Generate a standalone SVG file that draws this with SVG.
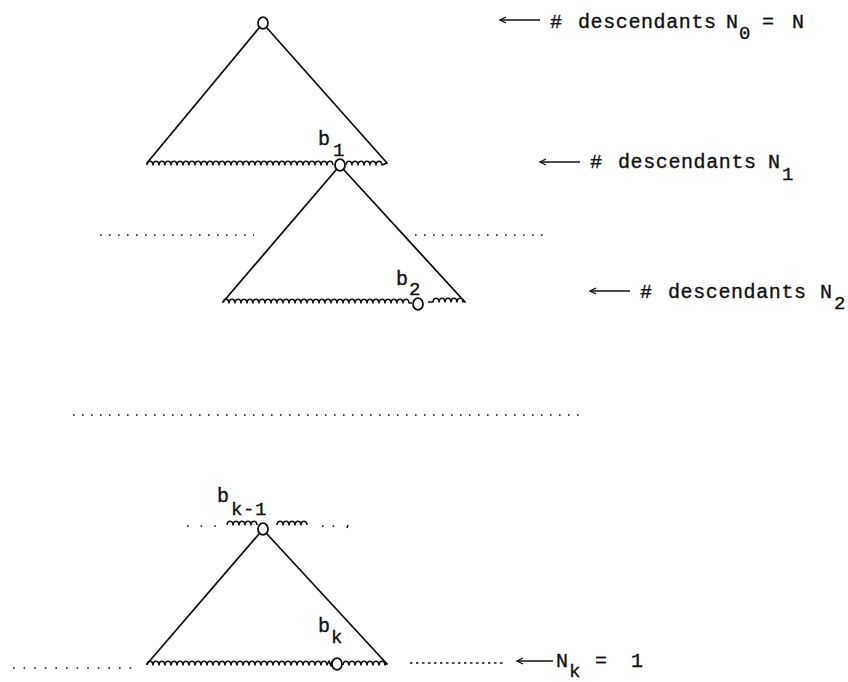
<svg xmlns="http://www.w3.org/2000/svg" width="848" height="682" viewBox="0 0 848 682">
<defs>
<style>
text{font-family:"Liberation Mono","Courier New",monospace;font-size:20px;fill:#111;stroke:#111;stroke-width:0.35;letter-spacing:0.6px}
.sub{font-size:19px}
.edge{stroke:#111;stroke-width:1.8;fill:none;stroke-linecap:round}
.node{stroke:#111;stroke-width:1.8;fill:#fff}
.wave{stroke:#111;stroke-width:1.6;fill:none;stroke-linejoin:round}
.dots{stroke:#111;stroke-width:1.6;stroke-dasharray:1.6 7.4;fill:none}
.dense{stroke:#111;stroke-width:1.5;stroke-dasharray:2.5 3.5;fill:none}
.arrow{stroke:#111;stroke-width:1.4;fill:none}
</style>
<marker id="ah" viewBox="-8 -5 10 10" refX="0" refY="0" markerWidth="10" markerHeight="10" orient="auto" markerUnits="userSpaceOnUse">
<path d="M-6,-3 L0,0 L-6,3" fill="none" stroke="#111" stroke-width="1.3"/>
</marker>
</defs>
<rect width="848" height="682" fill="#fff"/>

<g id="connectors">
<line class="edge" x1="259" y1="28" x2="147" y2="163"/>
<line class="edge" x1="267" y1="28" x2="387" y2="163"/>
<line class="edge" x1="336" y1="170" x2="223" y2="302"/>
<line class="edge" x1="344" y1="170" x2="465" y2="302"/>
<line class="edge" x1="259" y1="534" x2="147" y2="664"/>
<line class="edge" x1="267" y1="534" x2="387" y2="664"/>
</g>

<g id="frontiers">
<path class="wave" d="M147,165 c0.5,-5 5.5,-5 6,0 c0.5,-5 5.5,-5 6,0 c0.5,-5 5.5,-5 6,0 c0.5,-5 5.5,-5 6,0 c0.5,-5 5.5,-5 6,0 c0.5,-5 5.5,-5 6,0 c0.5,-5 5.5,-5 6,0 c0.5,-5 5.5,-5 6,0 c0.5,-5 5.5,-5 6,0 c0.5,-5 5.5,-5 6,0 c0.5,-5 5.5,-5 6,0 c0.5,-5 5.5,-5 6,0 c0.5,-5 5.5,-5 6,0 c0.5,-5 5.5,-5 6,0 c0.5,-5 5.5,-5 6,0 c0.5,-5 5.5,-5 6,0 c0.5,-5 5.5,-5 6,0 c0.5,-5 5.5,-5 6,0 c0.5,-5 5.5,-5 6,0 c0.5,-5 5.5,-5 6,0 c0.5,-5 5.5,-5 6,0 c0.5,-5 5.5,-5 6,0 c0.5,-5 5.5,-5 6,0 c0.5,-5 5.5,-5 6,0 c0.5,-5 5.5,-5 6,0 c0.5,-5 5.5,-5 6,0 c0.5,-5 5.5,-5 6,0 c0.5,-5 5.5,-5 6,0 c0.5,-5 5.5,-5 6,0 c0.5,-5 5.5,-5 6,0 c0.5,-5 5.5,-5 6,0"/>
<path class="wave" d="M346,165 c0.5,-5 5.5,-5 6,0 c0.5,-5 5.5,-5 6,0 c0.5,-5 5.5,-5 6,0 c0.5,-5 5.5,-5 6,0 c0.5,-5 5.5,-5 6,0 c0.5,-5 5.5,-5 6,0 l5,-2"/>
<path class="wave" d="M223,303 c0.5,-5 5.5,-5 6,0 c0.5,-5 5.5,-5 6,0 c0.5,-5 5.5,-5 6,0 c0.5,-5 5.5,-5 6,0 c0.5,-5 5.5,-5 6,0 c0.5,-5 5.5,-5 6,0 c0.5,-5 5.5,-5 6,0 c0.5,-5 5.5,-5 6,0 c0.5,-5 5.5,-5 6,0 c0.5,-5 5.5,-5 6,0 c0.5,-5 5.5,-5 6,0 c0.5,-5 5.5,-5 6,0 c0.5,-5 5.5,-5 6,0 c0.5,-5 5.5,-5 6,0 c0.5,-5 5.5,-5 6,0 c0.5,-5 5.5,-5 6,0 c0.5,-5 5.5,-5 6,0 c0.5,-5 5.5,-5 6,0 c0.5,-5 5.5,-5 6,0 c0.5,-5 5.5,-5 6,0 c0.5,-5 5.5,-5 6,0 c0.5,-5 5.5,-5 6,0 c0.5,-5 5.5,-5 6,0 c0.5,-5 5.5,-5 6,0 c0.5,-5 5.5,-5 6,0 c0.5,-5 5.5,-5 6,0 c0.5,-5 5.5,-5 6,0 c0.5,-5 5.5,-5 6,0 c0.5,-5 5.5,-5 6,0 c0.5,-5 5.5,-5 6,0 c0.5,-5 5.5,-5 6,0 l3,0"/>
<path class="wave" d="M428,302 l5,0 c0.5,-5 5.5,-5 6,0 c0.5,-5 5.5,-5 6,0 c0.5,-5 5.5,-5 6,0 c0.5,-5 5.5,-5 6,0 c0.5,-5 5.5,-5 6,0 l2,-1"/>
<path class="wave" d="M147,665 c0.5,-5 5.5,-5 6,0 c0.5,-5 5.5,-5 6,0 c0.5,-5 5.5,-5 6,0 c0.5,-5 5.5,-5 6,0 c0.5,-5 5.5,-5 6,0 c0.5,-5 5.5,-5 6,0 c0.5,-5 5.5,-5 6,0 c0.5,-5 5.5,-5 6,0 c0.5,-5 5.5,-5 6,0 c0.5,-5 5.5,-5 6,0 c0.5,-5 5.5,-5 6,0 c0.5,-5 5.5,-5 6,0 c0.5,-5 5.5,-5 6,0 c0.5,-5 5.5,-5 6,0 c0.5,-5 5.5,-5 6,0 c0.5,-5 5.5,-5 6,0 c0.5,-5 5.5,-5 6,0 c0.5,-5 5.5,-5 6,0 c0.5,-5 5.5,-5 6,0 c0.5,-5 5.5,-5 6,0 c0.5,-5 5.5,-5 6,0 c0.5,-5 5.5,-5 6,0 c0.5,-5 5.5,-5 6,0 c0.5,-5 5.5,-5 6,0 c0.5,-5 5.5,-5 6,0 c0.5,-5 5.5,-5 6,0 c0.5,-5 5.5,-5 6,0 c0.5,-5 5.5,-5 6,0 c0.5,-5 5.5,-5 6,0 c0.5,-5 5.5,-5 6,0 l2,-4 l2,5 l1,-5"/>
<path class="wave" d="M343,665 c0.5,-5 5.5,-5 6,0 c0.5,-5 5.5,-5 6,0 c0.5,-5 5.5,-5 6,0 c0.5,-5 5.5,-5 6,0 c0.5,-5 5.5,-5 6,0 c0.5,-5 5.5,-5 6,0 c0.5,-5 5.5,-5 6,0 l2,-2"/>
<path class="wave" d="M227,525 c0.5,-5 5.5,-5 6,0 c0.5,-5 5.5,-5 6,0 c0.5,-5 5.5,-5 6,0 c0.5,-5 5.5,-5 6,0 c0.5,-5 5.5,-5 6,0"/>
<path class="wave" d="M277,525 c0.5,-5 5.5,-5 6,0 c0.5,-5 5.5,-5 6,0 c0.5,-5 5.5,-5 6,0 c0.5,-5 5.5,-5 6,0 c0.5,-5 5.5,-5 6,0"/>
</g>

<g id="dotted-lines">
<line class="dots" x1="100" y1="235" x2="254" y2="235"/>
<line class="dots" x1="415" y1="235" x2="544" y2="235"/>
<line class="dots" x1="73" y1="415" x2="586" y2="415"/>
<line class="dots" x1="13" y1="668" x2="136" y2="668" style="stroke-dasharray:1.6 9"/>
<line class="dense" x1="410" y1="663" x2="506" y2="663"/>
<line class="dots" x1="187" y1="526" x2="218" y2="526" style="stroke-dasharray:1.6 12"/>
<line class="dots" x1="322" y1="526" x2="342" y2="526" style="stroke-dasharray:1.6 9"/>
<path d="M348,525 l-1,3" stroke="#111" stroke-width="1.5" fill="none"/>
</g>

<g id="root">
<ellipse class="node" cx="263" cy="23" rx="5" ry="5.8"/>
</g>
<g id="b1">
<ellipse class="node" cx="340" cy="165" rx="5" ry="5.8"/>
<text x="318" y="145">b</text>
<text class="sub" x="333" y="156">1</text>
</g>
<g id="b2">
<ellipse class="node" cx="418" cy="304" rx="5" ry="5.8"/>
<text x="396" y="285">b</text>
<text class="sub" x="409" y="295">2</text>
</g>
<g id="bk-1">
<ellipse class="node" cx="263" cy="529" rx="5" ry="5.8"/>
<text x="217" y="502">b</text>
<text class="sub" x="231" y="515">k-1</text>
</g>
<g id="bk">
<ellipse class="node" cx="337" cy="664" rx="5" ry="5.8"/>
<text x="318" y="632">b</text>
<text class="sub" x="331" y="643">k</text>
</g>

<g id="label-N0">
<line class="arrow" x1="540" y1="20" x2="500" y2="20" marker-end="url(#ah)"/>
<text x="550" y="28">#</text>
<text x="578" y="28">descendants</text>
<text x="726" y="28">N</text>
<text class="sub" x="739" y="39">0</text>
<text x="762" y="28">=</text>
<text x="792" y="28">N</text>
</g>
<g id="label-N1">
<line class="arrow" x1="580" y1="162" x2="540" y2="162" marker-end="url(#ah)"/>
<text x="590" y="168">#</text>
<text x="618" y="168">descendants</text>
<text x="768" y="168">N</text>
<text class="sub" x="782" y="180">1</text>
</g>
<g id="label-N2">
<line class="arrow" x1="630" y1="291" x2="590" y2="291" marker-end="url(#ah)"/>
<text x="640" y="298">#</text>
<text x="668" y="298">descendants</text>
<text x="820" y="298">N</text>
<text class="sub" x="834" y="309">2</text>
</g>
<g id="label-Nk">
<line class="arrow" x1="553" y1="661" x2="517" y2="661" marker-end="url(#ah)"/>
<text x="556" y="667">N</text>
<text class="sub" x="569" y="677">k</text>
<text x="595" y="667">=</text>
<text x="631" y="667">1</text>
</g>
</svg>
